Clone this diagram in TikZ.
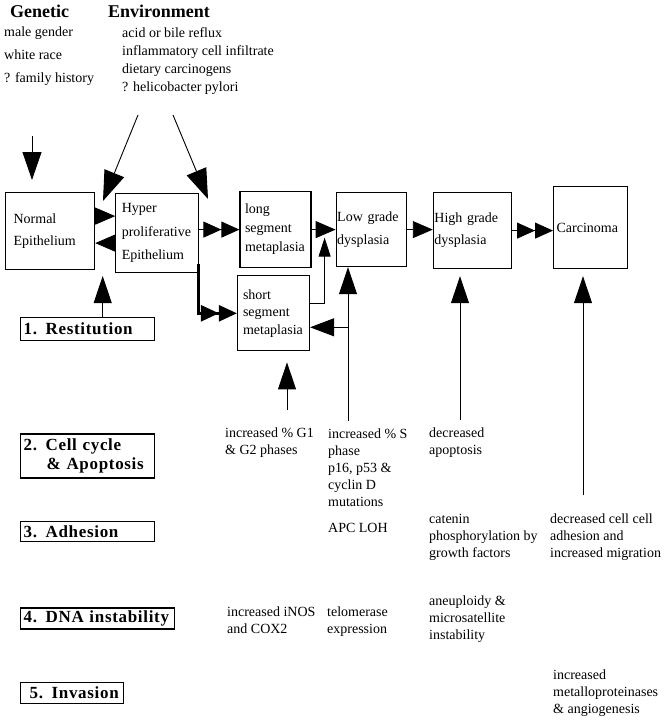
\documentclass[tikz,border=0pt]{standalone}
\usepackage{fontspec}
\setmainfont{Liberation Serif}
\newfontfamily\spacedserif[LetterSpace=4]{Liberation Serif}
\usetikzlibrary{arrows.meta, positioning}

\newcommand\stagefont{\fontsize{14}{22}\selectfont}
\newcommand\phasefont{\spacedserif\bfseries\fontsize{17}{19}\selectfont}
\newcommand\notefont{\fontsize{14}{17}\selectfont}
\newcommand\headfont{\bfseries\fontsize{18}{20}\selectfont}

\tikzset{
  stage/.style = {
    draw, line width=1.2pt, align=left, inner sep=0pt, font=\stagefont
  },
  phase/.style = {
    draw, line width=1.4pt, align=left, inner xsep=3pt, inner ysep=0pt,
    anchor=north west, font=\phasefont
  },
  note/.style = {anchor=base west, align=left, inner sep=0pt, font=\notefont},
  head/.style = {anchor=base west, inner sep=0pt, font=\headfont},
  arrow/.style = {line width=0.9pt, -{Triangle[length=27pt,width=18pt]}},
  midarrow/.style = {line width=0.9pt, -{Triangle[length=20pt,width=17pt]}},
  smallarrow/.style = {line width=0.9pt, -{Triangle[length=19pt,width=12pt]}},
  twoarrow/.style = {
    line width=0.9pt,
    -{Triangle[length=18pt,width=16pt] Triangle[length=18pt,width=16pt]}
  }
}

\begin{document}
\begin{tikzpicture}[x=1pt, y=-1pt]
  \useasboundingbox (0,0) rectangle (665,720);

  % Risk factors (notes sit on their last baseline)
  \node[head] (genetic) at (10,17) {Genetic};
  \node[head] (environ) at (108,17) {Environment};
  \node[note, font=\fontsize{14}{23}\selectfont] (genlist) at (4,82)
    {male gender\\white race\\? family history};
  \node[note, font=\fontsize{14}{17.7}\selectfont] (envlist) at (122,91)
    {acid or bile reflux\\inflammatory cell infiltrate\\dietary carcinogens\\? helicobacter pylori};

  % Stages
  \node[stage, minimum width=89pt, minimum height=77pt, text width=73pt,
    anchor=north west] (normal) at (5,192) {Normal\\Epithelium};
  \node[stage, minimum width=83pt, minimum height=79pt, text width=71pt,
    font=\fontsize{14}{23.5}\selectfont, right=20pt of normal, yshift=-2pt]
    (hyper) {Hyper\\proliferative\\Epithelium};
  \node[stage, minimum width=71pt, minimum height=76pt, text width=61pt,
    font=\fontsize{14}{19}\selectfont, right=40pt of hyper, yshift=3.5pt]
    (long) {long\\segment\\metaplasia};
  \node[stage, minimum width=72pt, minimum height=75pt, text width=61pt,
    font=\fontsize{14}{17.5}\selectfont, below=7pt of long, xshift=-2pt]
    (short) {short\\segment\\metaplasia};
  \node[stage, minimum width=70pt, minimum height=74pt, text width=68pt,
    font=\fontsize{14}{23}\selectfont, right=24pt of long]
    (low) {Low grade\\dysplasia};
  \node[stage, minimum width=78pt, minimum height=76pt, text width=76pt,
    right=26pt of low, yshift=-1pt] (high) {High grade\\dysplasia};
  \node[stage, minimum width=74pt, minimum height=82pt, text width=68pt,
    right=41pt of high, yshift=3pt] (carc) {Carcinoma};

  % Mechanisms
  \node[phase, text width=128pt, minimum height=23pt] (restit) at (20,317)
    {1. Restitution};
  \node[phase, text width=128pt, minimum height=44pt,
    below=92pt of restit.south west, anchor=north west] (cycle)
    {2. Cell cycle\\\hspace*{23pt}\& Apoptosis};
  \node[phase, text width=128pt, minimum height=20pt,
    below=42pt of cycle.south west, anchor=north west] (adhes) {3. Adhesion};
  \node[phase, text width=148pt, minimum height=21pt,
    below=65pt of adhes.south west, anchor=north west] (dna) {4. DNA instability};
  \node[phase, text width=97pt, minimum height=21pt,
    below=52pt of dna.south west, anchor=north west] (invas)
    {\hspace*{6pt}5. Invasion};

  % Findings
  \node[note] (gphase) at (225,454) {increased \% G1\\\& G2 phases};
  \node[note] (sphase) at (328,506)
    {increased \% S\\phase\\p16, p53 \&\\cyclin D\\mutations};
  \node[note] (apopt) at (429,454) {decreased\\apoptosis};
  \node[note] (apc) at (328,532) {APC LOH};
  \node[note] (catenin) at (429,557) {catenin\\phosphorylation by\\growth factors};
  \node[note] (celladh) at (550,557)
    {decreased cell cell\\adhesion and\\increased migration};
  \node[note] (inos) at (227,633) {increased iNOS\\and COX2};
  \node[note] (telom) at (327,633) {telomerase\\expression};
  \node[note] (aneu) at (429,639) {aneuploidy \&\\microsatellite\\instability};
  \node[note] (metallo) at (553,713)
    {increased\\metalloproteinases\\\& angiogenesis};

  % Free ends
  \coordinate (genfoot) at (32,136);
  \coordinate (gentip) at (32,180);
  \coordinate (envleft) at (138,115);
  \coordinate (envright) at (173,115);
  \coordinate (lefttip) at (103,201);
  \coordinate (righttip) at (208,199);
  \coordinate (shortfoot) at (287,410);
  \coordinate (lowfoot) at (348,421);
  \coordinate (highfoot) at (460,420);
  \coordinate (carcfoot) at (583,495);

  % Arrows from risk factors
  \draw[line width=0.9pt, -{Triangle[length=28pt,width=19pt]}] (genfoot) -- (gentip);
  \draw[line width=0.9pt, -{Triangle[length=30pt,width=21pt]}] (envleft) -- (lefttip);
  \draw[line width=0.9pt, -{Triangle[length=30pt,width=21pt]}] (envright) -- (righttip);

  % Arrows along the sequence
  \draw[midarrow] ([yshift=15pt]normal.east) -- ([yshift=15pt]normal.east -| hyper.west);
  \draw[midarrow] ([yshift=-12pt]normal.east -| hyper.west) -- ([yshift=-12pt]normal.east);
  \draw[twoarrow] (long.west -| hyper.east) -- (long.west);
  \draw[twoarrow, line width=2.6pt] ([xshift=-1pt,yshift=9pt]hyper.south east) |- (short.west);
  \draw[midarrow] (long.east) -- (long.east -| low.west);
  \draw[smallarrow] ([yshift=10pt]short.east) -| ([xshift=-11pt,yshift=-8pt]low.west);
  \draw[midarrow] (low.east) -- (low.east -| high.west);
  \draw[twoarrow] (high.east) -- (high.east -| carc.west);

  % Arrows from mechanisms
  \draw[arrow] ([xshift=15pt]restit.north) -- ([xshift=15pt,yshift=41pt]restit.north);
  \draw[arrow] (shortfoot) -- ([yshift=-11pt]shortfoot |- short.south);
  \draw[arrow] (lowfoot) -- (lowfoot |- low.south);
  \draw[line width=0.9pt, -{Triangle[length=24pt,width=18pt]}]
    ([yshift=-14pt]short.east -| lowfoot) -- ([yshift=-14pt]short.east);
  \draw[arrow] (highfoot) -- ([yshift=-7pt]highfoot |- high.south);
  \draw[arrow] (carcfoot) -- ([yshift=-7pt]carcfoot |- carc.south);

\end{tikzpicture}
\end{document}
